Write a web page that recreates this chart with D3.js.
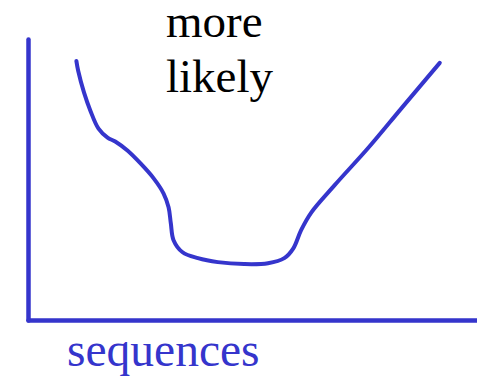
<!DOCTYPE html>
<html>
<head>
<meta charset="utf-8">
<script src="https://cdn.jsdelivr.net/npm/d3@7"></script>
<style>
  html, body { margin: 0; padding: 0; background: #fff; }
  svg { display: block; }
</style>
</head>
<body>
<svg id="chart" width="477" height="377"></svg>
<script>
// hand drawn curve (x = sequences, y = likelihood, 0..100)
var seqX = [10.7, 11.1, 12.4, 13.8, 15.6, 17.6, 19.3, 22.0, 24.9, 27.8, 30.0, 31.1, 31.6, 32.2,
            34.2, 37.6, 42.0, 47.8, 53.1, 56.7, 58.7, 60.4, 62.7, 67.8, 75.3, 82.7, 91.1];
var likeY = [92.2, 88.7, 80.9, 74.5, 68.1, 64.9, 63.5, 60.3, 55.7, 50.4, 45.0, 40.1, 34.4, 28.4,
             24.1, 22.0, 20.6, 19.9, 20.2, 22.0, 25.5, 31.9, 38.3, 47.9, 61.3, 75.5, 91.5];
var labelLines = ["more", "likely"];
var xLabel = "sequences";

var blue = "#3535cc";
var svg = d3.select("#chart");

var x = d3.scaleLinear().domain([0, 100]).range([28, 480]);
var y = d3.scaleLinear().domain([0, 100]).range([320, 39]);

// axes: just the lines, no ticks
var xAxis = svg.append("g")
  .attr("transform", "translate(0," + y(0) + ")")
  .call(d3.axisBottom(x).ticks(0).tickSizeOuter(0));
var yAxis = svg.append("g")
  .attr("transform", "translate(" + x(0) + ",0)")
  .call(d3.axisLeft(y).ticks(0).tickSizeOuter(0));
svg.selectAll(".domain")
  .attr("stroke", blue)
  .attr("stroke-width", 4.5)
  .attr("stroke-linecap", "round");

var pts = seqX.map(function(d, i){ return [d, likeY[i]]; });
var line = d3.line()
  .x(function(d){ return x(d[0]); })
  .y(function(d){ return y(d[1]); })
  .curve(d3.curveCatmullRom.alpha(0.5));

svg.append("path")
  .datum(pts)
  .attr("d", line)
  .attr("fill", "none")
  .attr("stroke", blue)
  .attr("stroke-width", 4)
  .attr("stroke-linecap", "round")
  .attr("stroke-linejoin", "round");

// "more likely" label
svg.append("text")
  .attr("x", 166)
  .attr("y", 37)
  .attr("font-family", "'Liberation Serif', 'Times New Roman', serif")
  .attr("font-size", 47)
  .attr("fill", "#000")
  .selectAll("tspan")
  .data(labelLines)
  .enter().append("tspan")
  .attr("x", 166)
  .attr("dy", function(d, i){ return i == 0 ? 0 : 55; })
  .text(function(d){ return d; });

svg.append("text")
  .attr("x", 67)
  .attr("y", 366)
  .attr("font-family", "'Liberation Serif', 'Times New Roman', serif")
  .attr("font-size", 47.5)
  .attr("fill", blue)
  .text(xLabel);
</script>
</body>
</html>
